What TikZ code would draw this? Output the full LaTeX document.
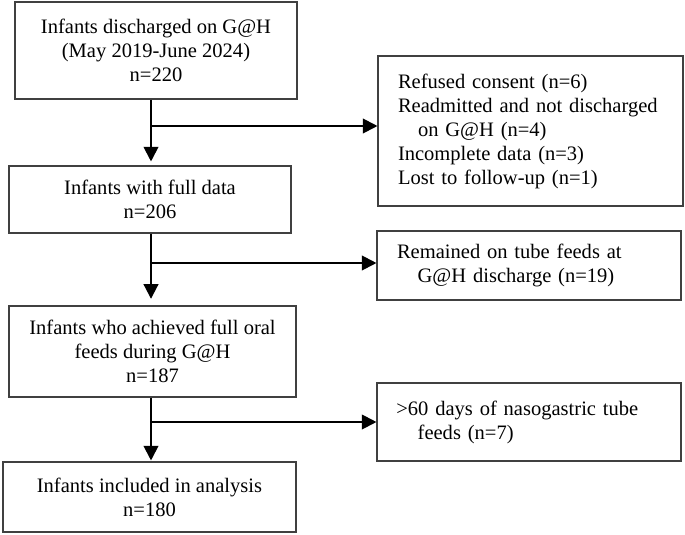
\documentclass[tikz,border=0pt]{standalone}
\usepackage{fontspec}
\setmainfont{Liberation Serif}
\usetikzlibrary{arrows.meta}
\begin{document}
\begin{tikzpicture}[x=0.75pt,y=-0.75pt,
  box/.style={draw=black!75, line width=0.8pt, inner sep=0pt, font=\fontsize{15.4pt}{18pt}\selectfont},
  lbox/.style={box, align=center},
  rbox/.style={box, align=left},
  flow/.style={line width=1.5pt, -{Triangle[length=11pt,width=11pt]}}]
\useasboundingbox[fill=white] (0,0) rectangle (685,535);
% main column
\node[lbox, minimum width=211.5pt, minimum height=72.75pt] (b1) at (156,50.5)
  {Infants discharged on G@H\\(May 2019-June 2024)\\n=220};
\node[lbox, minimum width=211.5pt, minimum height=50.25pt] (b2) at (150,199.5)
  {Infants with full data\\n=206};
\node[lbox, minimum width=215.25pt, minimum height=68.25pt] (b3) at (152.5,351.5)
  {Infants who achieved full oral\\feeds during G@H\\n=187};
\node[lbox, minimum width=219.75pt, minimum height=52.5pt] (b4) at (149.5,497)
  {Infants included in analysis\\n=180};
% exclusion boxes
\node[rbox, minimum width=228.75pt, minimum height=112.5pt, text width=198.75pt] (r1) at (530.5,131)
  {Refused consent (n=6)\\Readmitted and not discharged\\\hspace*{15pt}on G@H (n=4)\\Incomplete data (n=3)\\Lost to follow-up (n=1)\par\vspace*{6.75pt}};
\node[rbox, minimum width=228pt, minimum height=51.75pt, text width=198pt] (r2) at (529,265.5)
  {Remained on tube feeds at\\\hspace*{15.5pt}G@H discharge (n=19)};
\node[rbox, minimum width=228pt, minimum height=58.5pt, text width=199pt] (r3) at (529,422)
  {>60 days of nasogastric tube\\\hspace*{16pt}feeds (n=7)\par\vspace*{5.25pt}};
% junction coordinates
\coordinate (jx) at (151,0);
\coordinate (c1) at (151,126);
\coordinate (c2) at (151,263);
\coordinate (c3) at (151,422);
% connectors
\draw[flow, shorten >=3pt] (b1.south -| jx) -- (b2.north -| jx);
\draw[flow, shorten >=5pt] (b2.south -| jx) -- (b3.north -| jx);
\draw[flow, shorten >=0.75pt] (b3.south -| jx) -- (b4.north -| jx);
\draw[flow] (c1) -- (c1 -| r1.west);
\draw[flow] (c2) -- (c2 -| r2.west);
\draw[flow] (c3) -- (c3 -| r3.west);
\end{tikzpicture}
\end{document}
